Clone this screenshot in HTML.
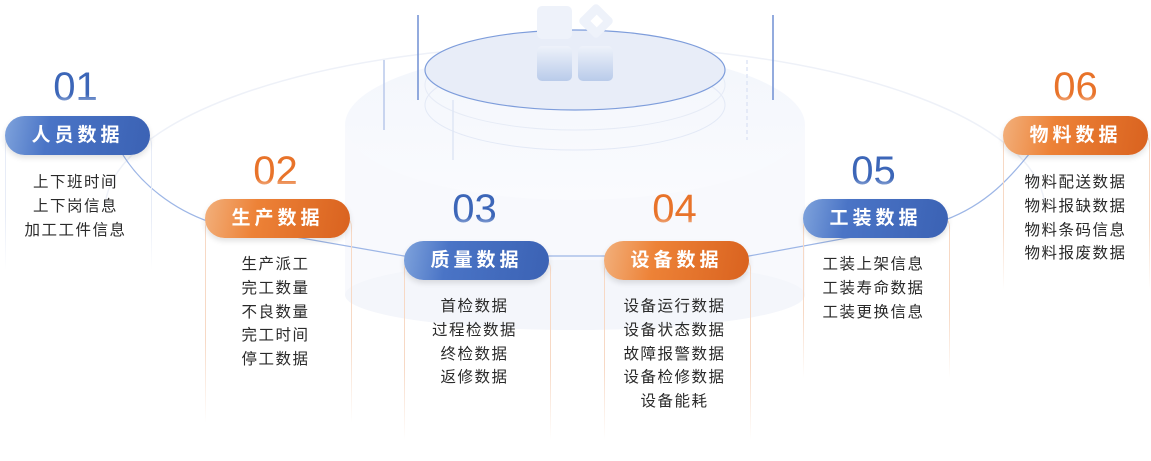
<!DOCTYPE html>
<html><head><meta charset="utf-8"><style>
body{margin:0;width:1151px;height:461px;background:#fff;position:relative;overflow:hidden;font-family:"Liberation Sans","Noto Sans CJK SC",sans-serif}
.pill{position:absolute;width:145px;height:39px;border-radius:20px;color:#fff;font-weight:bold;font-size:19px;letter-spacing:4px;text-align:center;line-height:39px;box-shadow:0 3px 6px rgba(0,0,0,.12)}
.b{background:linear-gradient(100deg,#7fa3dc 0%,#4a74c6 30%,#3b62b4 100%)}
.o{background:linear-gradient(100deg,#f2b07c 0%,#ed8237 35%,#d9621f 100%)}
.num{position:absolute;width:145px;text-align:center;font-size:40px;font-weight:normal;font-family:"Liberation Sans",sans-serif;-webkit-mask-image:linear-gradient(#000 65%,rgba(0,0,0,.15));mask-image:linear-gradient(#000 65%,rgba(0,0,0,.15))}
.nb{color:#3c66b8}.no{color:#e8732a}
.list{position:absolute;width:145px;text-align:center;font-size:15.5px;color:#2a2a2a;line-height:23.8px;letter-spacing:1.5px}
.card{position:absolute;width:145px;border-left:1px solid #f7d9c5;border-right:1px solid #f7d9c5;border-radius:14px 14px 0 0;-webkit-mask-image:linear-gradient(#000 60%,transparent);mask-image:linear-gradient(#000 60%,transparent)}
</style></head><body>
<svg width="1151" height="461" style="position:absolute;left:0;top:0">
<defs>
<linearGradient id="cyl" x1="0" y1="0" x2="0" y2="1"><stop offset="0" stop-color="#f3f6fc"/><stop offset="1" stop-color="#fafbfe"/></linearGradient>
<linearGradient id="sq" x1="0" y1="0" x2="0" y2="1"><stop offset="0" stop-color="#eef2fa"/><stop offset="1" stop-color="#b9cbea"/></linearGradient>
</defs>
<path d="M105,210 A470,165 0 0 1 1045,210" fill="none" stroke="#eef1f8" stroke-width="1.5"/>
<rect x="345" y="125" width="460" height="170" fill="#f8f9fd"/>
<ellipse cx="575" cy="295" rx="230" ry="35" fill="#f4f6fb"/>
<ellipse cx="575" cy="125" rx="230" ry="75" fill="url(#cyl)"/>
<ellipse cx="575" cy="105" rx="150" ry="45" fill="none" stroke="#e3e9f6"/>
<ellipse cx="575" cy="85" rx="150" ry="45" fill="none" stroke="#e6ebf6"/>
<ellipse cx="575" cy="70" rx="150" ry="40" fill="#e8edf8" stroke="#7e9ddb" stroke-width="1.2"/>
<rect x="537" y="6" width="35" height="33" rx="5" fill="#eef2fa"/>
<rect x="583" y="8" width="26" height="26" rx="4" transform="rotate(45 596 21)" fill="#eef2fa"/>
<rect x="592" y="16" width="9" height="9" transform="rotate(45 596 21)" fill="#fff"/>
<rect x="537" y="46" width="35" height="35" rx="5" fill="url(#sq)"/>
<rect x="578" y="46" width="35" height="35" rx="5" fill="url(#sq)"/>
<line x1="418" y1="15" x2="418" y2="100" stroke="#6f8fd2" stroke-width="1.5"/>
<line x1="773" y1="15" x2="773" y2="100" stroke="#6f8fd2" stroke-width="1.5"/>
<line x1="384" y1="60" x2="384" y2="130" stroke="#b8c8ea" stroke-width="1.5"/>
<line x1="453" y1="100" x2="453" y2="160" stroke="#dfe6f5" stroke-width="1.5"/>
<line x1="747" y1="60" x2="747" y2="140" stroke="#dfe6f5" stroke-width="1.5" stroke-dasharray="4 3"/>
<path d="M120,150 C140,185 175,210 210,222 L404,256 L749,256 L945,220 C985,205 1010,180 1040,140" fill="none" stroke="#9db6e6" stroke-width="1.2"/>
</svg>

<div class="card" style="left:5px;top:130px;height:140px;border-color:#e7ecf7"></div>
<div class="card" style="left:205px;top:213px;height:210px"></div>
<div class="card" style="left:404px;top:255px;height:185px"></div>
<div class="card" style="left:604px;top:255px;height:185px"></div>
<div class="card" style="left:803px;top:213px;height:165px"></div>
<div class="card" style="left:1003px;top:130px;height:160px"></div>

<div class="num nb" style="left:3px;top:65px">01</div>
<div class="num no" style="left:203px;top:149px">02</div>
<div class="num nb" style="left:402px;top:187px">03</div>
<div class="num no" style="left:602px;top:187px">04</div>
<div class="num nb" style="left:801px;top:149px">05</div>
<div class="num no" style="left:1003px;top:65px">06</div>

<div class="pill b" style="left:5px;top:116px">人员数据</div>
<div class="pill o" style="left:205px;top:199px">生产数据</div>
<div class="pill b" style="left:404px;top:241px">质量数据</div>
<div class="pill o" style="left:604px;top:241px">设备数据</div>
<div class="pill b" style="left:803px;top:199px">工装数据</div>
<div class="pill o" style="left:1003px;top:116px">物料数据</div>

<div class="list" style="left:3px;top:171px">上下班时间<br>上下岗信息<br>加工工件信息</div>
<div class="list" style="left:203px;top:253px">生产派工<br>完工数量<br>不良数量<br>完工时间<br>停工数据</div>
<div class="list" style="left:402px;top:295px">首检数据<br>过程检数据<br>终检数据<br>返修数据</div>
<div class="list" style="left:602px;top:295px">设备运行数据<br>设备状态数据<br>故障报警数据<br>设备检修数据<br>设备能耗</div>
<div class="list" style="left:801px;top:253px">工装上架信息<br>工装寿命数据<br>工装更换信息</div>
<div class="list" style="left:1003px;top:171px">物料配送数据<br>物料报缺数据<br>物料条码信息<br>物料报废数据</div>
</body></html>
